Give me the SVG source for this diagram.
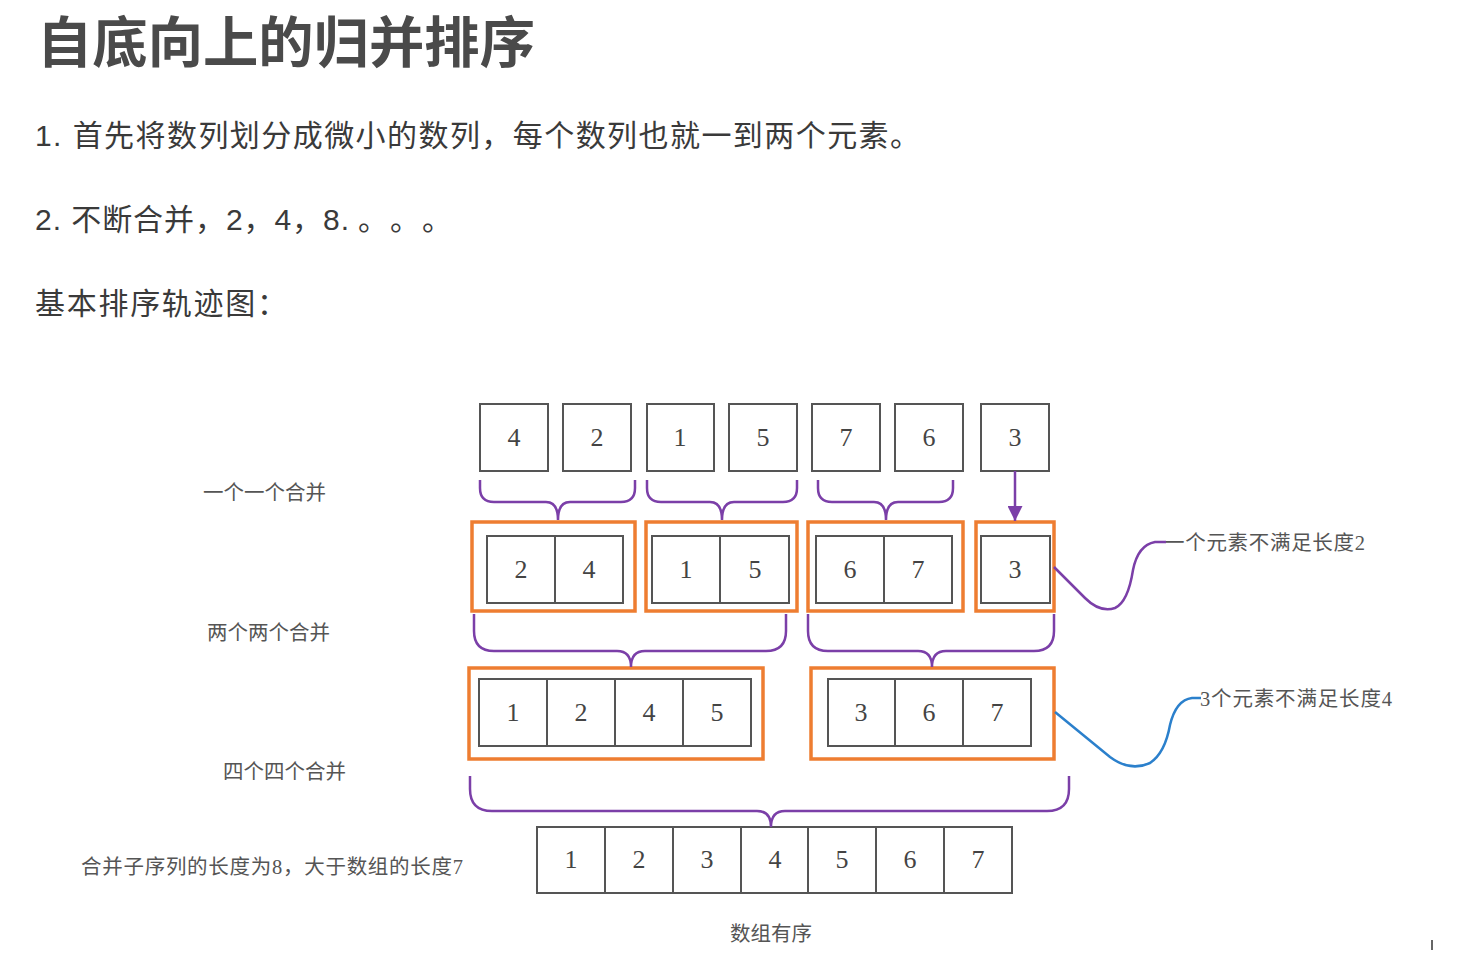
<svg xmlns="http://www.w3.org/2000/svg" width="1460" height="962" viewBox="0 0 1460 962">
<style>
.title{font-family:"Noto Sans CJK SC",sans-serif;font-size:55px;font-weight:bold;fill:#4a4a4a}
.para{font-family:"Liberation Sans","Noto Sans CJK SC",sans-serif;font-size:30px;fill:#3a3a3a}
.lbl{font-family:"Liberation Serif","Noto Sans CJK SC",serif;font-size:20.5px;fill:#555}
.num{font-family:"Liberation Serif",serif;font-size:26px;fill:#444;text-anchor:middle}
.box{fill:#fff;stroke:#555;stroke-width:2}
.org{fill:none;stroke:#ee7d31;stroke-width:3.5}
.br{fill:none;stroke:#7b3fa8;stroke-width:2.5}
.blue{fill:none;stroke:#2b80cc;stroke-width:2.5}
</style>
<defs>
<marker id="ah" viewBox="0 0 10 10" refX="10" refY="5" markerWidth="6" markerHeight="6" markerUnits="strokeWidth" orient="auto">
<path d="M0 0 L10 5 L0 10 Z" fill="#7b3fa8"/>
</marker>
</defs>
<rect width="1460" height="962" fill="#fff"/>
<text class="title" x="37" y="62" textLength="498" lengthAdjust="spacingAndGlyphs">自底向上的归并排序</text>
<text class="para" x="35" y="146" textLength="885">1. 首先将数列划分成微小的数列，每个数列也就一到两个元素。</text>
<text class="para" x="35" y="230" textLength="314">2. 不断合并，2，4，8.</text>
<text class="para" y="230"><tspan x="358">。</tspan><tspan x="390">。</tspan><tspan x="422">。</tspan></text>
<text class="para" x="35" y="314" textLength="252">基本排序轨迹图：</text>

<g id="labels">
<text class="lbl" x="203" y="500">一个一个合并</text>
<text class="lbl" x="207" y="640">两个两个合并</text>
<text class="lbl" x="223" y="779">四个四个合并</text>
<text class="lbl" x="81" y="874" textLength="382">合并子序列的长度为8，大于数组的长度7</text>
<text class="lbl" x="730" y="941">数组有序</text>
</g>

<g id="row1">
<rect class="box" x="480" y="404" width="68" height="67"/><text class="num" x="514" y="446">4</text>
<rect class="box" x="563" y="404" width="68" height="67"/><text class="num" x="597" y="446">2</text>
<rect class="box" x="647" y="404" width="67" height="67"/><text class="num" x="680" y="446">1</text>
<rect class="box" x="729" y="404" width="68" height="67"/><text class="num" x="763" y="446">5</text>
<rect class="box" x="812" y="404" width="68" height="67"/><text class="num" x="846" y="446">7</text>
<rect class="box" x="895" y="404" width="68" height="67"/><text class="num" x="929" y="446">6</text>
<rect class="box" x="981" y="404" width="68" height="67"/><text class="num" x="1015" y="446">3</text>
</g>

<g id="row2">
<rect class="org" x="472" y="522" width="163" height="89"/>
<rect class="box" x="487" y="536" width="136" height="67"/><line x1="555" y1="536" x2="555" y2="603" stroke="#555" stroke-width="2"/>
<text class="num" x="521" y="578">2</text><text class="num" x="589" y="578">4</text>
<rect class="org" x="646" y="522" width="151" height="89"/>
<rect class="box" x="652" y="536" width="137" height="67"/><line x1="720" y1="536" x2="720" y2="603" stroke="#555" stroke-width="2"/>
<text class="num" x="686" y="578">1</text><text class="num" x="755" y="578">5</text>
<rect class="org" x="808" y="522" width="155" height="89"/>
<rect class="box" x="816" y="536" width="136" height="67"/><line x1="884" y1="536" x2="884" y2="603" stroke="#555" stroke-width="2"/>
<text class="num" x="850" y="578">6</text><text class="num" x="918" y="578">7</text>
<rect class="org" x="976" y="522" width="78" height="89"/>
<rect class="box" x="981" y="536" width="69" height="67"/>
<text class="num" x="1015" y="578">3</text>
</g>

<g id="row3">
<rect class="org" x="469" y="668" width="294" height="91"/>
<rect class="box" x="479" y="679" width="272" height="67"/>
<line x1="547" y1="679" x2="547" y2="746" stroke="#555" stroke-width="2"/>
<line x1="615" y1="679" x2="615" y2="746" stroke="#555" stroke-width="2"/>
<line x1="683" y1="679" x2="683" y2="746" stroke="#555" stroke-width="2"/>
<text class="num" x="513" y="721">1</text><text class="num" x="581" y="721">2</text><text class="num" x="649" y="721">4</text><text class="num" x="717" y="721">5</text>
<rect class="org" x="811" y="668" width="243" height="91"/>
<rect class="box" x="828" y="679" width="203" height="67"/>
<line x1="895" y1="679" x2="895" y2="746" stroke="#555" stroke-width="2"/>
<line x1="963" y1="679" x2="963" y2="746" stroke="#555" stroke-width="2"/>
<text class="num" x="861" y="721">3</text><text class="num" x="929" y="721">6</text><text class="num" x="997" y="721">7</text>
</g>

<g id="row4">
<rect class="box" x="537" y="827" width="475" height="66"/>
<line x1="605" y1="827" x2="605" y2="893" stroke="#555" stroke-width="2"/>
<line x1="673" y1="827" x2="673" y2="893" stroke="#555" stroke-width="2"/>
<line x1="741" y1="827" x2="741" y2="893" stroke="#555" stroke-width="2"/>
<line x1="808" y1="827" x2="808" y2="893" stroke="#555" stroke-width="2"/>
<line x1="876" y1="827" x2="876" y2="893" stroke="#555" stroke-width="2"/>
<line x1="944" y1="827" x2="944" y2="893" stroke="#555" stroke-width="2"/>
<text class="num" x="571" y="868">1</text><text class="num" x="639" y="868">2</text><text class="num" x="707" y="868">3</text><text class="num" x="775" y="868">4</text><text class="num" x="842" y="868">5</text><text class="num" x="910" y="868">6</text><text class="num" x="978" y="868">7</text>
</g>

<g id="callout1">
<text class="lbl" x="1164" y="550" textLength="201">一个元素不满足长度2</text>
</g>
<g id="callout2">
<text class="lbl" x="1200" y="706" textLength="192">3个元素不满足长度4</text>
</g>

<g id="connectors">
<path class="br" d="M480 480 V488 Q480 502 494 502 H546 Q558 502 558 520 Q558 502 570 502 H621 Q635 502 635 488 V480"/>
<path class="br" d="M647 480 V488 Q647 502 661 502 H710 Q722 502 722 520 Q722 502 734 502 H783 Q797 502 797 488 V480"/>
<path class="br" d="M818 480 V488 Q818 502 832 502 H874 Q886 502 886 520 Q886 502 898 502 H939 Q953 502 953 488 V480"/>
<line x1="1015" y1="471" x2="1015" y2="521" stroke="#7b3fa8" stroke-width="2.5" marker-end="url(#ah)"/>
<path class="br" d="M474 614 V631 Q474 651 494 651 H617 Q631 651 631 667 Q631 651 645 651 H766 Q786 651 786 631 V614"/>
<path class="br" d="M808 614 V631 Q808 651 828 651 H918 Q932 651 932 667 Q932 651 946 651 H1034 Q1054 651 1054 631 V614"/>
<path class="br" d="M470 776 V789 Q470 811 492 811 H757 Q771 811 771 827 Q771 811 785 811 H1047 Q1069 811 1069 789 V776"/>
<path class="br" d="M1054 567 L1085 598 Q1100 613 1115 608 Q1128 602 1133 570 Q1138 545 1155 542 H1166"/>
<path class="blue" d="M1055 712 L1110 757 Q1130 772 1150 763 Q1165 753 1170 725 Q1176 700 1192 698 H1201"/>
</g>
<line x1="1432" y1="940" x2="1432" y2="950" stroke="#333" stroke-width="1.5"/>
</svg>
